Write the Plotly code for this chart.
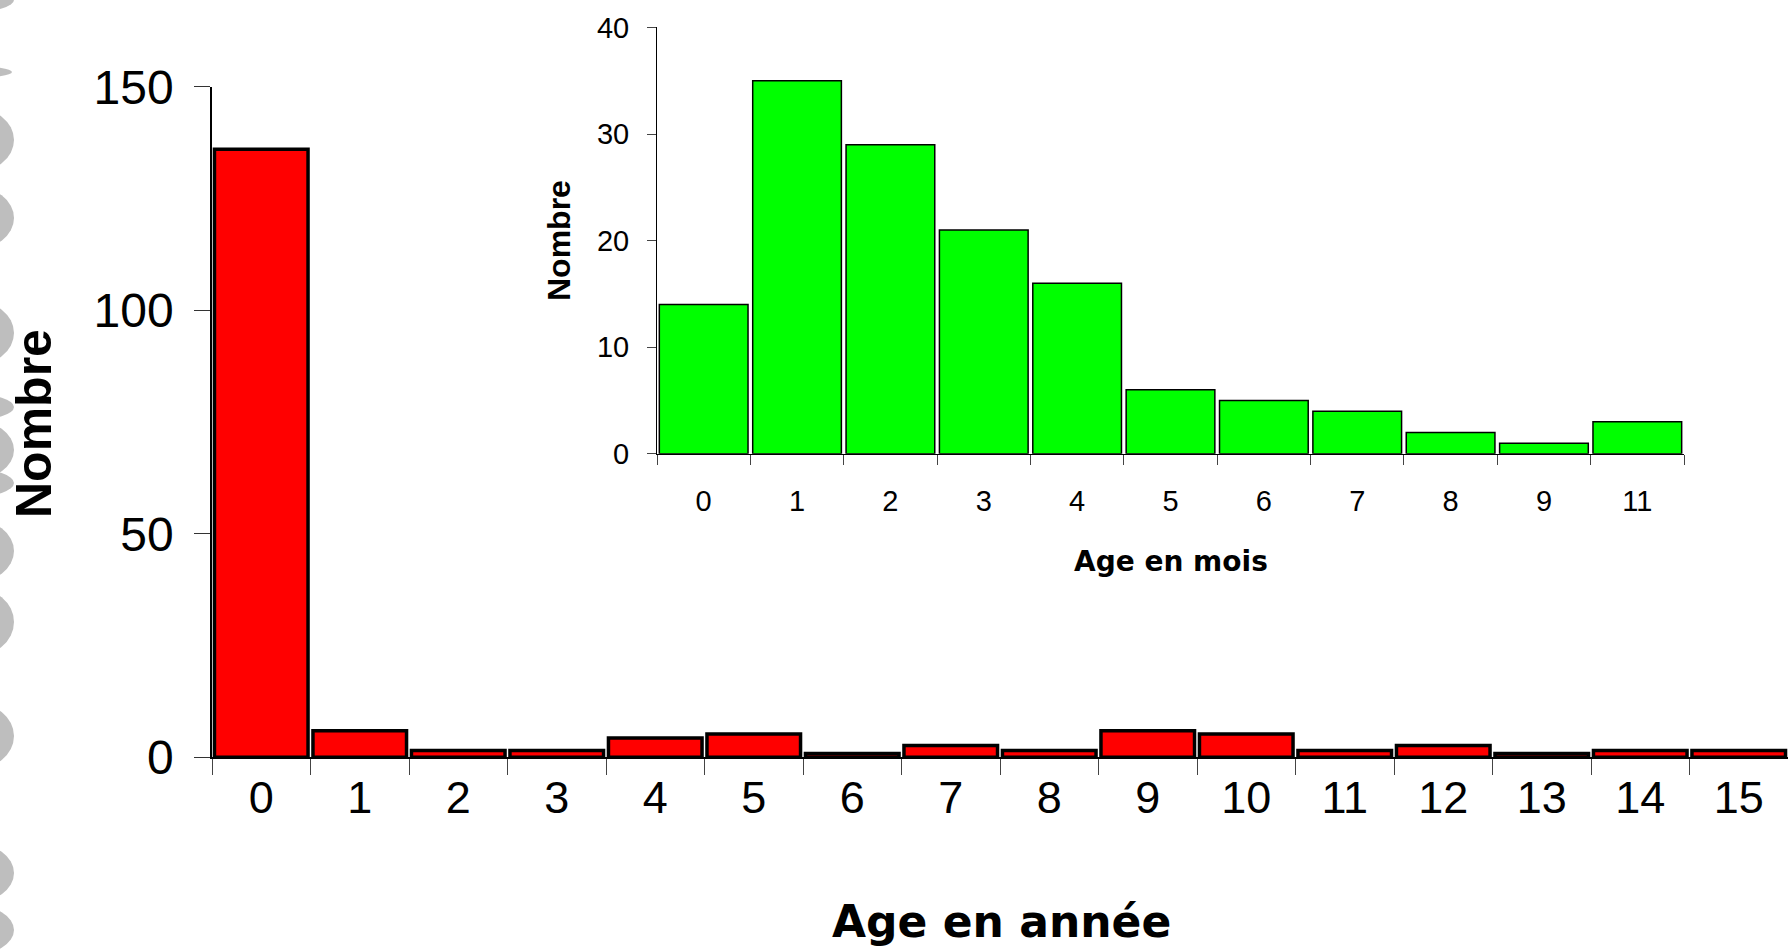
import plotly.graph_objects as go

# Main chart: age in years
annees = [str(i) for i in range(16)]
nombre_annee = [136, 5.9, 1.5, 1.5, 4.3, 5.2, 0.8, 2.6, 1.5, 5.9, 5.2, 1.5, 2.6, 0.8, 1.5, 1.5]

# Inset: age in months
mois = ["0", "1", "2", "3", "4", "5", "6", "7", "8", "9", "11"]
nombre_mois = [14, 35, 29, 21, 16, 6, 5, 4, 2, 1, 3]

main_ticks = [0, 50, 100, 150]
inset_ticks = [0, 10, 20, 30, 40]

# Decorative grey fragments cut off at the left edge of the picture (pixel centre, half height)
blob_centres = [0, 72, 140, 218, 333, 407, 450, 483, 551, 622, 736, 873, 930]
blob_halves = [12, 6, 33, 32, 33, 13, 30, 14, 32, 35, 34, 30, 25]

W, H = 1788, 949
ARIAL = "Liberation Sans, Arial, sans-serif"
WIDE = "DejaVu Sans, Verdana, sans-serif"

fig = go.Figure()

fig.add_trace(go.Bar(
    x=annees, y=nombre_annee, xaxis="x", yaxis="y",
    marker=dict(color="#FF0000", line=dict(color="#000000", width=3.5)),
    showlegend=False, hoverinfo="x+y",
))

fig.add_trace(go.Bar(
    x=mois, y=nombre_mois, xaxis="x2", yaxis="y2",
    marker=dict(color="#00FF00", line=dict(color="#000000", width=1.5)),
    showlegend=False, hoverinfo="x+y",
))

def px_x(v):
    return v / W

def px_y(v):
    return 1 - v / H

shapes = []
for c, h in zip(blob_centres, blob_halves):
    reach = 14 if h > 10 else 12
    shapes.append(dict(
        type="circle", xref="paper", yref="paper", layer="below",
        x0=px_x(-70), x1=px_x(reach), y0=px_y(c + h), y1=px_y(c - h),
        fillcolor="#BEBEBE", line=dict(width=0),
    ))

fig.update_layout(
    template="none",
    width=W, height=H,
    autosize=False,
    margin=dict(l=0, r=0, t=0, b=0, pad=0),
    paper_bgcolor="white",
    plot_bgcolor="rgba(0,0,0,0)",
    bargap=0.05,
    font=dict(family=ARIAL, color="black"),
    shapes=shapes,
    xaxis=dict(
        domain=[px_x(212), 1.0],
        type="category",
        range=[-0.5, 15.5],
        automargin=False,
        showline=True, linecolor="black", linewidth=1.5,
        ticks="outside", tickson="boundaries", ticklen=16, tickcolor="#444", tickwidth=1,
        tickfont=dict(family=ARIAL, size=45, color="black"),
        ticklabelstandoff=0,
        showgrid=False, zeroline=False,
        anchor="y",
    ),
    yaxis=dict(
        domain=[px_y(757.2), px_y(86.7)],
        range=[0, 150],
        tickvals=main_ticks,
        automargin=False,
        showline=True, linecolor="black", linewidth=1.5,
        ticks="outside", ticklen=16, tickcolor="#333", tickwidth=1,
        tickfont=dict(family=ARIAL, size=48, color="black"),
        ticklabelstandoff=11,
        showgrid=False, zeroline=False,
        anchor="x",
    ),
    xaxis2=dict(
        domain=[px_x(657), px_x(1684)],
        type="category",
        range=[-0.5, 10.5],
        automargin=False,
        showline=True, linecolor="black", linewidth=1,
        ticks="outside", tickson="boundaries", ticklen=10, tickcolor="#444", tickwidth=1,
        tickfont=dict(family=ARIAL, size=29, color="black"),
        ticklabelstandoff=21,
        showgrid=False, zeroline=False,
        anchor="y2",
    ),
    yaxis2=dict(
        domain=[px_y(453.8), px_y(27.4)],
        range=[0, 40],
        tickvals=inset_ticks,
        automargin=False,
        showline=True, linecolor="black", linewidth=1,
        ticks="outside", ticklen=9, tickcolor="#444", tickwidth=1,
        tickfont=dict(family=ARIAL, size=29, color="black"),
        ticklabelstandoff=12,
        showgrid=False, zeroline=False,
        anchor="x2",
    ),
    annotations=[
        dict(text="<b>Age en année</b>", x=px_x(1001), y=px_y(921), xref="paper", yref="paper",
             showarrow=False, xanchor="center", yanchor="middle",
             font=dict(family=WIDE, size=44, color="black")),
        dict(text="<b>Nombre</b>", x=px_x(34), y=px_y(424), xref="paper", yref="paper",
             showarrow=False, xanchor="center", yanchor="middle", textangle=-90,
             font=dict(family=ARIAL, size=50, color="black")),
        dict(text="<b>Age en mois</b>", x=px_x(1171), y=px_y(561), xref="paper", yref="paper",
             showarrow=False, xanchor="center", yanchor="middle",
             font=dict(family=WIDE, size=28, color="black")),
        dict(text="<b>Nombre</b>", x=px_x(559), y=px_y(241), xref="paper", yref="paper",
             showarrow=False, xanchor="center", yanchor="middle", textangle=-90,
             font=dict(family=ARIAL, size=32, color="black")),
    ],
)

fig.write_html("out.html")
